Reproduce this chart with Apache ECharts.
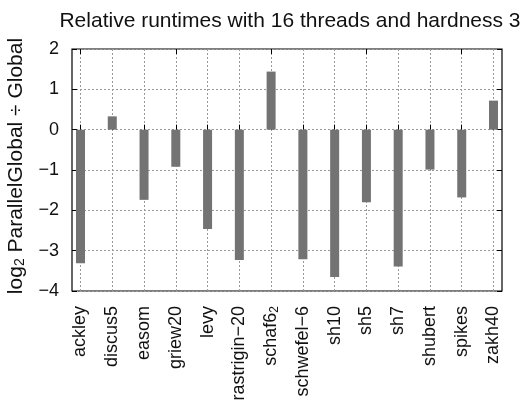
<!DOCTYPE html>
<html>
<head>
<meta charset="utf-8">
<script src="https://cdn.jsdelivr.net/npm/echarts@6/dist/echarts.min.js"></script>
<style>
  html, body { margin: 0; padding: 0; background: #fff; }
  #chart { width: 520px; height: 400px; }
</style>
</head>
<body>
<div id="chart"></div>
<script>
var categories = ['ackley', 'discus5', 'easom', 'griew20', 'levy', 'rastrigin−20', 'schaf6₂',
    'schwefel−6', 'sh10', 'sh5', 'sh7', 'shubert', 'spikes', 'zakh40'];
var runtimes = [-3.31, 0.33, -1.74, -0.92, -2.46, -3.23, 1.44, -3.21, -3.65, -1.80, -3.39, -0.99, -1.68, 0.72];
var yTicks = [-4, -3, -2, -1, 0, 1, 2];

var font = 'Liberation Sans, Arial, sans-serif';
var dotted = {color: '#999', type: [2, 2], width: 1};

function minus(v) {
    return v < 0 ? '−' + Math.abs(v) : String(v);
}

function catLabel(v) {
    if (v === 'schaf6₂') return '{n|schaf6}{s|2}';
    return '{n|' + v + '}';
}

var myChart = echarts.init(document.getElementById('chart'));
myChart.setOption({
    animation: false,
    title: {
        text: 'Relative runtimes with 16 threads and hardness 3',
        left: 285,
        textAlign: 'center',
        top: 6,
        textStyle: {fontFamily: font, fontSize: 21, fontWeight: 'normal', color: '#111'}
    },
    grid: [
        {left: 72, right: 18, top: 49, bottom: 109, outerBoundsMode: 'none', containLabel: false,
            show: true, borderColor: '#000', borderWidth: 1.2, backgroundColor: 'transparent'},
        {left: 80.5, right: 26.5, top: 49, bottom: 109, outerBoundsMode: 'none', containLabel: false}
    ],
    xAxis: [
        {gridIndex: 0, type: 'value', show: false, min: 0, max: 1},
        {
            gridIndex: 1, type: 'category', data: categories, boundaryGap: false,
            axisLine: {show: false},
            axisTick: {inside: true, length: 5, lineStyle: {color: '#000'}},
            splitLine: {show: true, lineStyle: dotted},
            axisLabel: {
                rotate: 90, margin: 15, interval: 0,
                formatter: catLabel,
                rich: {
                    n: {fontFamily: font, fontSize: 18, color: '#111'},
                    s: {fontFamily: font, fontSize: 12, color: '#111', padding: [8, 0, 0, 0]}
                }
            }
        },
        {
            gridIndex: 1, type: 'category', data: categories, boundaryGap: false, position: 'top',
            axisLine: {show: false},
            axisTick: {inside: true, length: 5, lineStyle: {color: '#000'}},
            axisLabel: {show: false}
        }
    ],
    yAxis: [
        {
            gridIndex: 0, type: 'value', min: yTicks[0], max: yTicks[yTicks.length - 1], interval: 1,
            axisLine: {show: false},
            axisTick: {inside: true, length: 5, lineStyle: {color: '#000'}},
            splitLine: {show: true, lineStyle: dotted},
            axisLabel: {fontFamily: font, fontSize: 18, color: '#111', margin: 13, formatter: minus},
            name: '{a|log}{s|2}{a| ParallelGlobal ÷ Global}',
            nameLocation: 'middle',
            nameGap: 43,
            nameRotate: 90,
            nameTextStyle: {
                padding: [0, 0, 0, 8],
                rich: {
                    a: {fontFamily: font, fontSize: 21, color: '#111'},
                    s: {fontFamily: font, fontSize: 14, color: '#111', padding: [9, 0, 0, 0]}
                }
            }
        },
        {
            gridIndex: 0, type: 'value', position: 'right', min: yTicks[0], max: yTicks[yTicks.length - 1], interval: 1,
            axisLine: {show: false},
            axisTick: {inside: true, length: 5, lineStyle: {color: '#000'}},
            splitLine: {show: false},
            axisLabel: {show: false}
        },
        {gridIndex: 1, type: 'value', show: false, min: yTicks[0], max: yTicks[yTicks.length - 1]}
    ],
    series: [
        {
            type: 'bar',
            xAxisIndex: 1,
            yAxisIndex: 2,
            data: runtimes,
            barWidth: 9,
            itemStyle: {color: '#737373'}
        }
    ]
});
</script>
</body>
</html>
